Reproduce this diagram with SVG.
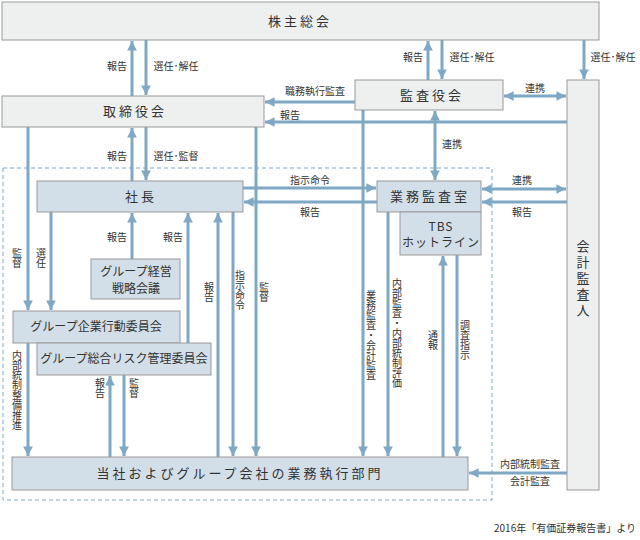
<svg xmlns="http://www.w3.org/2000/svg" width="640" height="540" viewBox="0 0 640 540">
<style>
text{font-family:"Noto Sans CJK JP","Noto Sans",sans-serif;fill:#333}
.g{fill:#eef0f0;stroke:#999;stroke-width:1}
.b{fill:#d3dfe8;stroke:#999;stroke-width:1}
.t{font-size:13px;letter-spacing:3px;text-anchor:middle}
.s{font-size:12px;text-anchor:middle}
.l{font-size:10px;text-anchor:middle}
.v{font-size:10px;writing-mode:vertical-rl;text-orientation:upright}
.c line{stroke:#7ea8c4;stroke-width:3}
.a{marker-end:url(#ah)}
.d{marker-start:url(#as);marker-end:url(#ah)}
</style>
<defs>
<marker id="ah" viewBox="0 0 10 10" refX="10" refY="5" markerWidth="3.2" markerHeight="3.2" orient="auto" markerUnits="strokeWidth"><path d="M0,0L10,5L0,10z" fill="#7ea8c4"/></marker>
<marker id="as" viewBox="0 0 10 10" refX="0" refY="5" markerWidth="3.2" markerHeight="3.2" orient="auto" markerUnits="strokeWidth"><path d="M10,0L0,5L10,10z" fill="#7ea8c4"/></marker>
</defs>
<rect x="3" y="168" width="489" height="332" fill="none" stroke="#7ea8c4" stroke-width="1" stroke-dasharray="4,3"/>
<g class="c">
<line class="a" x1="132" y1="96" x2="132" y2="41"/>
<line class="a" x1="146" y1="40" x2="146" y2="95"/>
<line class="a" x1="428" y1="80" x2="428" y2="41"/>
<line class="a" x1="442" y1="40" x2="442" y2="79"/>
<line class="a" x1="584" y1="40" x2="584" y2="79"/>
<line class="a" x1="355" y1="102" x2="265" y2="102"/>
<line class="a" x1="567" y1="122" x2="265" y2="122"/>
<line class="d" x1="504" y1="96" x2="566" y2="96"/>
<line class="a" x1="132" y1="181" x2="132" y2="128"/>
<line class="a" x1="146" y1="127" x2="146" y2="180"/>
<line class="d" x1="435" y1="111" x2="435" y2="180"/>
<line class="a" x1="28" y1="127" x2="28" y2="310"/>
<line class="a" x1="28" y1="343" x2="28" y2="456"/>
<line class="a" x1="51" y1="212" x2="51" y2="310"/>
<line class="a" x1="132" y1="259" x2="132" y2="213"/>
<line class="a" x1="188" y1="343" x2="188" y2="213"/>
<line class="a" x1="218" y1="457" x2="218" y2="213"/>
<line class="a" x1="233" y1="212" x2="233" y2="456"/>
<line class="a" x1="256" y1="127" x2="256" y2="456"/>
<line class="a" x1="243" y1="188" x2="376" y2="188"/>
<line class="a" x1="377" y1="202" x2="244" y2="202"/>
<line class="a" x1="363" y1="110" x2="363" y2="456"/>
<line class="a" x1="388" y1="212" x2="388" y2="456"/>
<line class="a" x1="443" y1="457" x2="443" y2="256"/>
<line class="a" x1="457" y1="255" x2="457" y2="456"/>
<line class="d" x1="482" y1="189" x2="566" y2="189"/>
<line class="a" x1="567" y1="202" x2="482" y2="202"/>
<line class="a" x1="110" y1="457" x2="110" y2="376"/>
<line class="a" x1="124" y1="375" x2="124" y2="456"/>
<line class="a" x1="567" y1="473" x2="469" y2="473"/>
</g>
<g id="kabunushi"><rect class="g" x="2" y="2" width="597" height="38"/><text class="t" x="300" y="26">株主総会</text></g>
<g id="torishimariyaku"><rect class="g" x="2" y="96" width="262" height="31"/><text class="t" x="135" y="116">取締役会</text></g>
<g id="kansayaku"><rect class="g" x="355" y="80" width="148" height="30"/><text class="t" x="432" y="100">監査役会</text></g>
<g id="kaikei"><rect class="g" x="567" y="80" width="32" height="410"/><text class="v" x="583" y="240" style="font-size:13px;letter-spacing:3px">会計監査人</text></g>
<g id="shacho"><rect class="b" x="37" y="181" width="206" height="31"/><text class="t" x="141" y="201">社長</text></g>
<g id="gyomukansa"><rect class="b" x="377" y="181" width="104" height="31"/><text class="t" x="430" y="201">業務監査室</text></g>
<g id="tbs"><rect class="b" x="400" y="212" width="81" height="43"/><text class="s" x="441" y="231" letter-spacing="1">TBS</text><text class="s" x="441" y="247" letter-spacing="1">ホットライン</text></g>
<g id="keiei"><rect class="b" x="91" y="259" width="89" height="40"/><text class="s" x="136" y="276">グループ経営</text><text class="s" x="136" y="293">戦略会議</text></g>
<g id="kodo"><rect class="b" x="13" y="311" width="167" height="32"/><text class="s" x="96" y="331">グループ企業行動委員会</text></g>
<g id="risk"><rect class="b" x="37" y="343" width="174" height="32"/><text class="s" x="124" y="363">グループ総合リスク管理委員会</text></g>
<g id="tosha"><rect class="b" x="12" y="457" width="456" height="33"/><text class="t" x="240" y="478">当社およびグループ会社の業務執行部門</text></g>
<g id="labels">
<text class="l" x="117" y="70">報告</text>
<text class="l" x="176" y="70">選任･解任</text>
<text class="l" x="413" y="61">報告</text>
<text class="l" x="472" y="61">選任･解任</text>
<text class="l" x="613" y="61">選任･解任</text>
<text class="l" x="315" y="95">職務執行監査</text>
<text class="l" x="290" y="119">報告</text>
<text class="l" x="535" y="92">連携</text>
<text class="l" x="117" y="160">報告</text>
<text class="l" x="176" y="160">選任･監督</text>
<text class="l" x="452" y="148">連携</text>
<text class="l" x="310" y="184">指示命令</text>
<text class="l" x="310" y="216">報告</text>
<text class="l" x="522" y="184">連携</text>
<text class="l" x="522" y="216">報告</text>
<text class="l" x="117" y="241">報告</text>
<text class="l" x="173" y="241">報告</text>
<text class="l" x="530" y="468">内部統制監査</text>
<text class="l" x="530" y="485">会計監査</text>
<text class="v" x="17" y="248">監督</text>
<text class="v" x="41" y="248">選任</text>
<text class="v" x="17" y="350">内部統制整備推進</text>
<text class="v" x="209" y="282">報告</text>
<text class="v" x="240" y="270">指示命令</text>
<text class="v" x="264" y="282">監督</text>
<text class="v" x="100" y="378">報告</text>
<text class="v" x="134" y="378">監督</text>
<text class="v" x="371" y="290">業務監査・会計監査</text>
<text class="v" x="397" y="278">内部監査・内部統制評価</text>
<text class="v" x="433" y="330">通報</text>
<text class="v" x="465" y="320">調査指示</text>
<text style="font-size:10px;text-anchor:end" x="636" y="532">2016年「有価証券報告書」より</text>
</g>
</svg>
